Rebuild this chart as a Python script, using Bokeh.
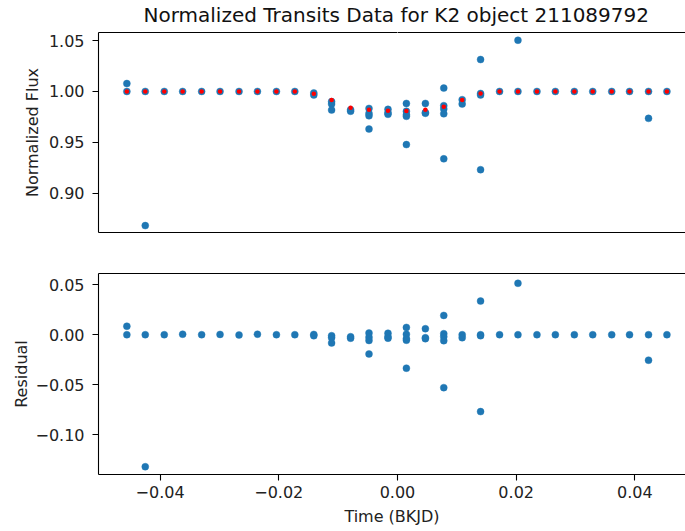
from bokeh.plotting import figure
from bokeh.layouts import column
from bokeh.models import Range1d, LinearAxis, FixedTicker, ColumnDataSource, CustomJSTickFormatter
from bokeh.embed import file_html
from bokeh.resources import INLINE

# ---- data ----
obs_time = [
    -0.0456, -0.0456,
    -0.0425, -0.0425,
    -0.0393, -0.0362, -0.0330, -0.0299, -0.0267, -0.0236, -0.0204, -0.0173,
    -0.0141, -0.0141,
    -0.0111, -0.0111, -0.0111,
    -0.0079, -0.0079,
    -0.0048, -0.0048, -0.0048, -0.0048,
    -0.0016, -0.0016, -0.0016,
    0.0015, 0.0015, 0.0015, 0.0015, 0.0015,
    0.0047, 0.0047, 0.0047,
    0.0078, 0.0078, 0.0078, 0.0078, 0.0078,
    0.0109, 0.0109,
    0.0140, 0.0140, 0.0140, 0.0140,
    0.0172,
    0.0203, 0.0203,
    0.0235, 0.0266, 0.0298, 0.0329, 0.0361, 0.0391,
    0.0423, 0.0423,
    0.0454,
]
obs_flux = [
    1.0000, 1.0078,
    1.0000, 0.8680,
    1.0000, 1.0000, 1.0000, 1.0000, 1.0000, 1.0000, 1.0000, 1.0000,
    0.9985, 0.9965,
    0.9900, 0.9876, 0.9817,
    0.9820, 0.9805,
    0.9833, 0.9784, 0.9760, 0.9630,
    0.9824, 0.9790, 0.9775,
    0.9882, 0.9805, 0.9770, 0.9755, 0.9477,
    0.9882, 0.9792, 0.9785,
    1.0033, 0.9860, 0.9827, 0.9780, 0.9337,
    0.9919, 0.9876,
    1.0314, 0.9980, 0.9965, 0.9230,
    1.0000,
    1.0000, 1.0504,
    1.0000, 1.0000, 1.0000, 1.0000, 1.0000, 1.0000,
    1.0000, 0.9735,
    1.0000,
]
obs_resid = [
    0.0000, 0.0085,
    0.0000, -0.1322,
    0.0000, 0.0005, 0.0000, 0.0003, -0.0003, 0.0005, 0.0000, 0.0000,
    0.0003, -0.0010,
    -0.0010, -0.0030, -0.0083,
    -0.0020, -0.0035,
    0.0017, -0.0025, -0.0058, -0.0193,
    0.0015, -0.0020, -0.0035,
    0.0073, 0.0005, -0.0040, -0.0055, -0.0335,
    0.0060, -0.0030, -0.0040,
    0.0193, 0.0010, -0.0020, -0.0060, -0.0530,
    0.0000, -0.0030,
    0.0337, 0.0000, -0.0010, -0.0770,
    0.0000,
    0.0000, 0.0515,
    0.0000, 0.0000, 0.0000, 0.0000, 0.0000, 0.0000,
    0.0000, -0.0255,
    0.0000,
]
model_time = [-0.0456, -0.0425, -0.0393, -0.0362, -0.0330, -0.0299, -0.0267, -0.0236,
              -0.0204, -0.0173, -0.0141, -0.0111, -0.0079, -0.0048, -0.0016, 0.0015,
              0.0047, 0.0078, 0.0109, 0.0140, 0.0172, 0.0203, 0.0235, 0.0266,
              0.0298, 0.0329, 0.0361, 0.0391, 0.0423, 0.0454]
model_flux = [1.0000, 1.0000, 1.0000, 1.0000, 1.0000, 1.0000, 1.0000, 1.0000,
              1.0000, 1.0000, 0.9977, 0.9915, 0.9840, 0.9820, 0.9810, 0.9808,
              0.9820, 0.9850, 0.9916, 0.9980, 1.0000, 1.0000, 1.0000, 1.0000,
              1.0000, 1.0000, 1.0000, 1.0000, 1.0000, 1.0000]
x_ticks = [-0.04, -0.02, 0.0, 0.02, 0.04]
flux_ticks = [0.90, 0.95, 1.00, 1.05]
resid_ticks = [-0.10, -0.05, 0.00, 0.05]

title_text = "Normalized Transits Data for K2 object 211089792"
flux_label = "Normalized Flux"
resid_label = "Residual"
time_label = "Time (BKJD)"

# ---- styling ----
FONT = "DejaVu Sans"
BLUE = "#1f77b4"
TXT = "#222222"
TICK_FS = "16px"
LABEL_FS = "16px"

fmt = CustomJSTickFormatter(code="return tick.toFixed(2).replace('-', '\u2212');")
blank_fmt = CustomJSTickFormatter(code="return '';")

obs_src = ColumnDataSource(dict(t=obs_time, f=obs_flux, r=obs_resid))
mod_src = ColumnDataSource(dict(t=model_time, f=model_flux))

XR = (-0.05038, 0.04853)
W = 685


def style_axis(ax, ticks, standoff, label_standoff):
    ax.axis_line_color = "black"
    ax.axis_line_width = 1.1
    ax.major_tick_line_color = "black"
    ax.major_tick_line_width = 1.1
    ax.major_tick_out = 6
    ax.major_tick_in = 0
    ax.minor_tick_line_color = None
    ax.major_label_text_font = FONT
    ax.major_label_text_font_size = TICK_FS
    ax.major_label_text_color = TXT
    ax.major_label_standoff = standoff
    ax.axis_label_text_font = FONT
    ax.axis_label_text_font_size = LABEL_FS
    ax.axis_label_text_font_style = "normal"
    ax.axis_label_text_color = TXT
    ax.axis_label_standoff = label_standoff
    ax.ticker = FixedTicker(ticks=ticks)
    ax.formatter = fmt


def bare_axis(ax):
    ax.axis_line_color = "black"
    ax.axis_line_width = 1.1
    ax.ticker = FixedTicker(ticks=[])
    ax.major_tick_line_color = None
    ax.minor_tick_line_color = None
    ax.major_label_text_font_size = "0px"
    ax.major_label_standoff = 0
    ax.major_tick_out = 0


# top panel: frame y 32..232
p1 = figure(width=W, height=252, output_backend="svg", toolbar_location=None,
            x_range=Range1d(*XR), y_range=Range1d(0.8612, 1.0580),
            min_border_left=98, min_border_right=0, min_border_top=32, min_border_bottom=20)
p1.title.text = title_text
p1.title.text_font = FONT
p1.title.text_font_size = "20px"
p1.title.text_font_style = "normal"
p1.title.text_color = "#111111"
p1.title.align = "left"
p1.title.offset = 45
p1.title.standoff = 0
p1.outline_line_color = None
p1.grid.visible = False
style_axis(p1.yaxis[0], flux_ticks, 8, 4)
p1.yaxis[0].axis_label = flux_label
bare_axis(p1.xaxis[0])

# top spine: one white (invisible) tick reserves a 6 px gap under the title
top1 = LinearAxis()
top1.axis_line_color = "black"
top1.axis_line_width = 1.1
top1.ticker = FixedTicker(ticks=[0.0])
top1.formatter = blank_fmt
top1.major_tick_line_color = "white"
top1.major_tick_line_width = 1
top1.major_tick_out = 6
top1.major_tick_in = 0
top1.minor_tick_line_color = None
top1.major_label_text_font_size = "0px"
top1.major_label_standoff = 0
p1.add_layout(top1, "above")

p1.scatter("t", "f", source=obs_src, size=7, fill_color=BLUE, line_color=BLUE,
           line_alpha=0.5, line_width=0.8)
p1.scatter("t", "f", source=mod_src, size=4.5, fill_color="red", line_color=None)

# bottom panel: frame y 273..474
p2 = figure(width=W, height=279, output_backend="svg", toolbar_location=None,
            x_range=Range1d(*XR), y_range=Range1d(-0.1400, 0.0613),
            min_border_left=98, min_border_right=0, min_border_top=21, min_border_bottom=57)
p2.outline_line_color = None
p2.grid.visible = False
style_axis(p2.yaxis[0], resid_ticks, 8, 1)
p2.yaxis[0].axis_label = resid_label
style_axis(p2.xaxis[0], x_ticks, 5, 6)
p2.xaxis[0].axis_label = time_label
top2 = LinearAxis()
bare_axis(top2)
p2.add_layout(top2, "above")
p2.scatter("t", "r", source=obs_src, size=7, fill_color=BLUE, line_color=BLUE,
           line_alpha=0.5, line_width=0.8)

layout = column(p1, p2, spacing=0)
open("out.html", "w").write(file_html(layout, INLINE))
